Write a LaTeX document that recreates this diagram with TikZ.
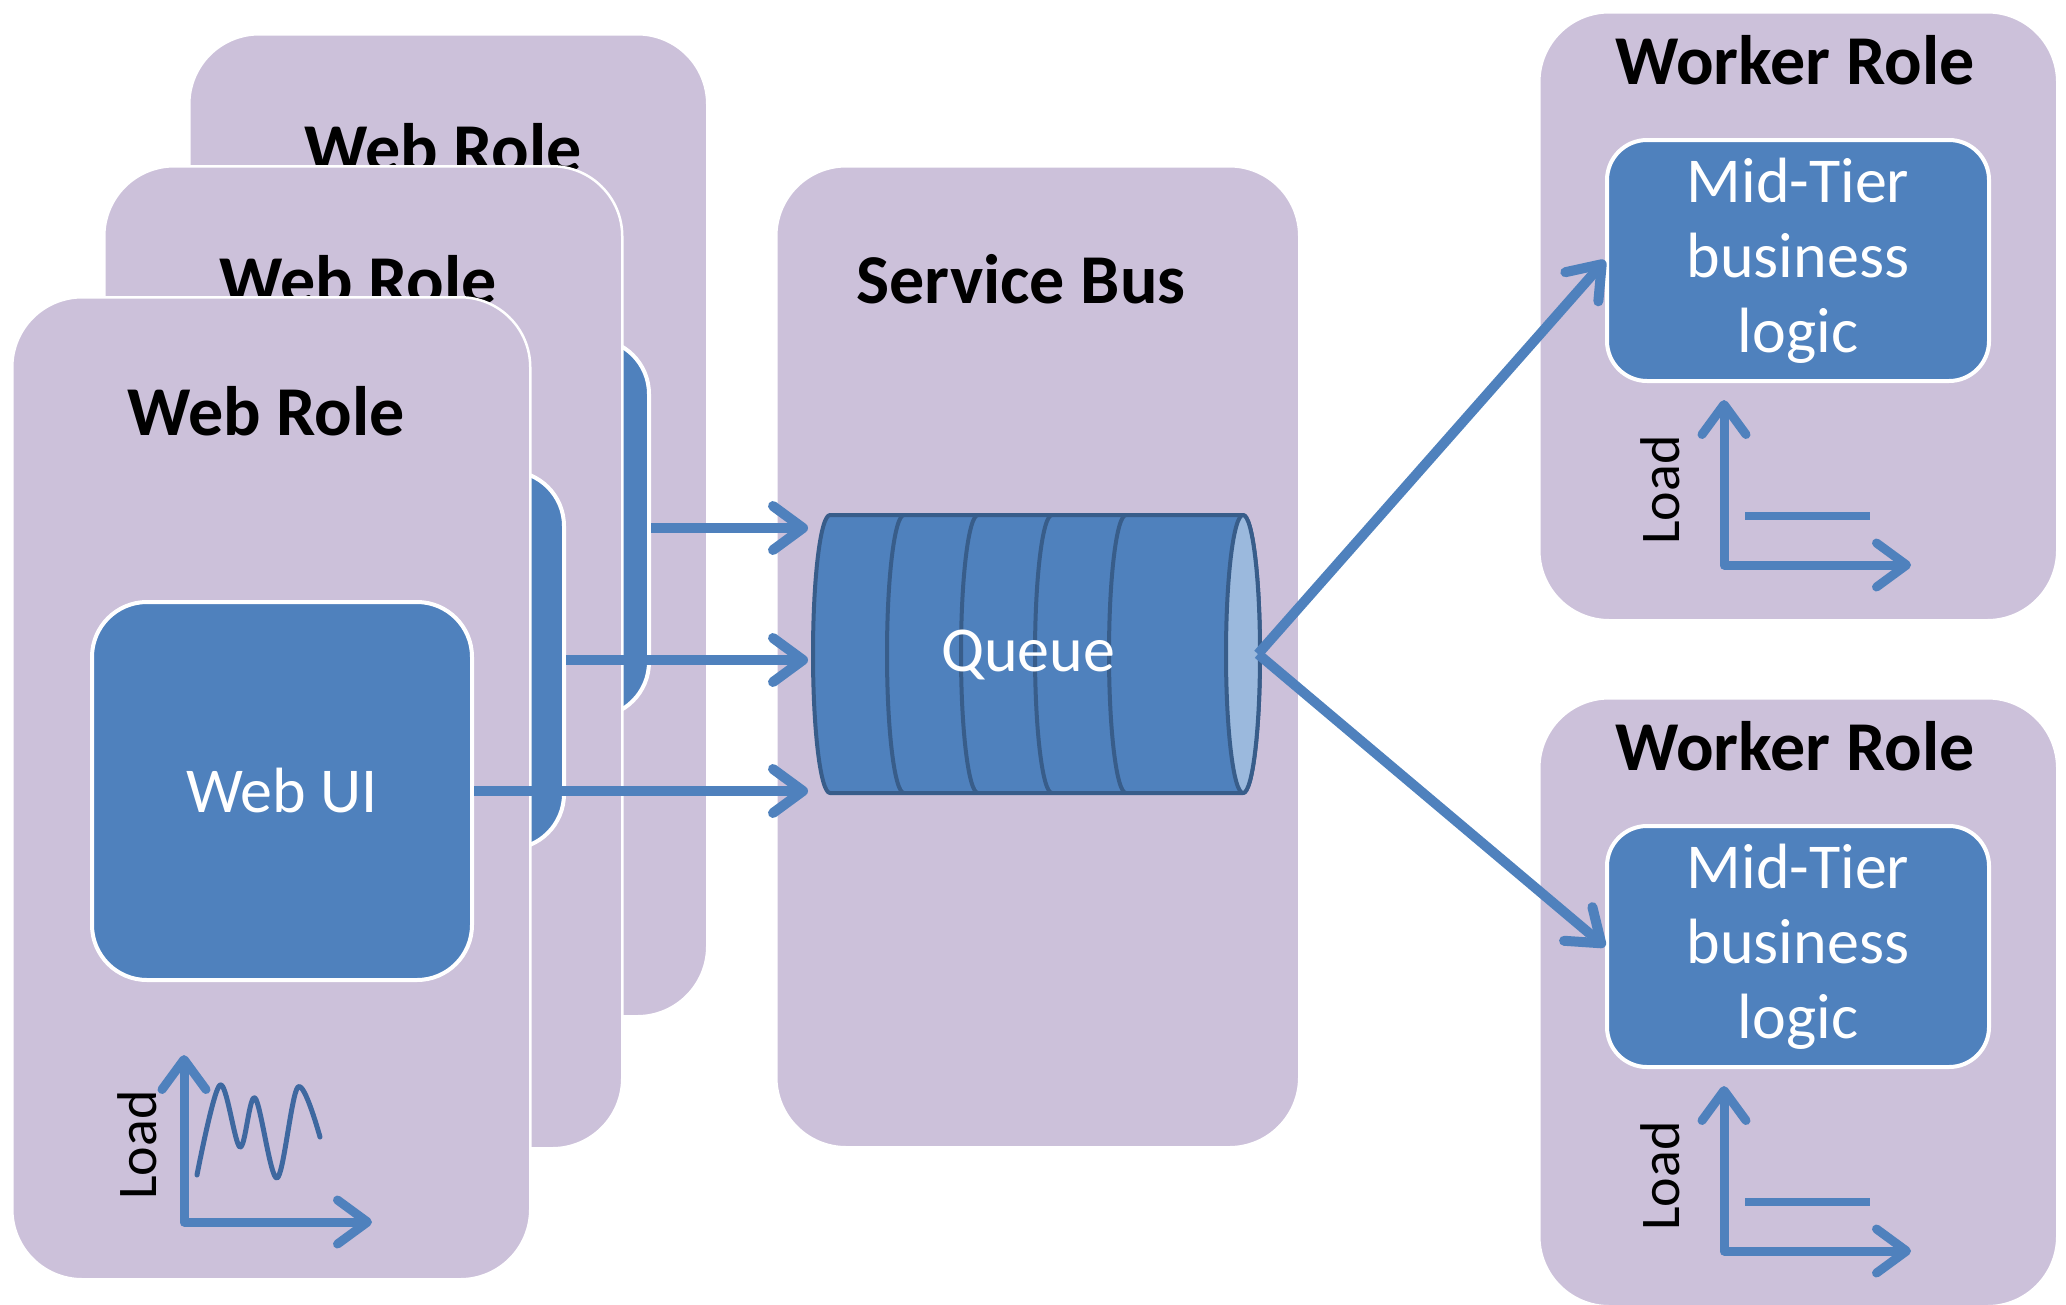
\documentclass[tikz,border=0pt]{standalone}
\usepackage{fontspec}
\setmainfont{Carlito}
\usetikzlibrary{arrows.meta}

\definecolor{rolefill}{RGB}{204,193,218}
\definecolor{boxblue}{RGB}{79,129,189}
\definecolor{darkblue}{RGB}{56,93,138}
\definecolor{wavecol}{RGB}{62,104,160}
\definecolor{queueend}{RGB}{155,185,221}

\begin{document}
\begin{tikzpicture}[x=1pt,y=-1pt,line join=round]
        % Styles
        \tikzstyle{role box}=[draw=white,line width=2.5pt,fill=rolefill,rounded corners=70pt,anchor=north west,inner sep=0pt,minimum width=518pt]
        \tikzstyle{role title}=[anchor=base,font=\bfseries\fontsize{70}{74}\selectfont]
        \tikzstyle{web box}=[draw=white,line width=4pt,fill=boxblue,rounded corners=55pt,anchor=north west,inner sep=0pt,minimum width=380pt,minimum height=378pt]
        \tikzstyle{logic box}=[draw=white,line width=4pt,fill=boxblue,rounded corners=40pt,anchor=north west,inner sep=0pt,minimum width=382pt,minimum height=241pt,align=center,text=white,font=\fontsize{64}{75}\selectfont]
        \tikzstyle{box text}=[text=white,font=\fontsize{64}{75}\selectfont]
        \tikzstyle{load label}=[rotate=90,font=\fontsize{56}{56}\selectfont]
        \tikzstyle{load axis}=[draw=boxblue,line width=9pt,{Straight Barb[round,length=30pt,width=44pt]}-{Straight Barb[round,length=30pt,width=44pt]}]
        \tikzstyle{load curve}=[draw=wavecol,line width=5pt,line cap=round]
        \tikzstyle{flat line}=[draw=boxblue,line width=8pt]
        \tikzstyle{queue line}=[draw=darkblue,line width=4pt]
        \tikzstyle{flow}=[draw=boxblue,line width=10pt,-{Straight Barb[round,length=30pt,width=44pt]}]
        \useasboundingbox (0,0) rectangle (2066,1304);
        %The graphic
        %web roles, back to front
        \foreach \n/\x/\y in {3/188/33,2/103/165,1/11/296}{
            \node[role box,minimum height=982pt] (wr\n) at (\x,\y) {};
            \node[role title] (title\n) at (\x+255,\y+139) {Web Role};
            \node[web box] (ui\n) at (\x+79,\y+304) {};
        }
        \node[box text] (uilabel) at (ui1) {Web UI};
        %load of the web role
        \draw[load axis] (184,1055) -- (184,1222) -- (372,1222);
        \draw[load curve] plot[smooth,tension=0.55] coordinates {(197,1175) (220,1085) (240,1147) (255,1098) (277,1178) (298,1087) (320,1137)};
        \node[load label] (load0) at (137,1145) {Load};
        %service bus
        \node[role box,minimum width=523pt,minimum height=981pt] (sb) at (775,165) {};
        \node[role title] (sbtitle) at (1021,303) {Service Bus};
        %queue
        \draw[queue line,fill=boxblue] (1243,515) -- (830,515) arc[start angle=270,end angle=90,x radius=17,y radius=139]
            -- (1243,793) arc[start angle=90,end angle=-90,x radius=17,y radius=139] -- cycle;
        \foreach \sx in {904,978,1052,1126}
            \draw[queue line] (\sx,515) arc[start angle=270,end angle=90,x radius=17,y radius=139];
        \draw[queue line,fill=queueend] (1243,654) ellipse[x radius=17,y radius=139];
        \node[box text] (q) at (1028,655) {Queue};
        \coordinate (qw) at (813,654);
        \coordinate (qe) at (1258,654);
        %worker roles
        \foreach \n/\y in {1/11,2/697}{
            \node[role box,minimum height=608pt] (wk\n) at (1538,\y) {};
            \node[role title] (wktitle\n) at (1795,\y+73) {Worker Role};
            \node[logic box] (mt\n) at (1605,\y+127) {Mid-Tier\\business\\logic};
            \draw[load axis] (1724,\y+389) -- (1724,\y+554) -- (1911,\y+554);
            \draw[flat line] (1745,\y+505) -- (1870,\y+505);
            \node[load label] (load\n) at (1660,\y+479) {Load};
        }
        %arrows
        \foreach \n in {1,2,3}
            \draw[flow,shorten >=5pt] (ui\n.east) -- (ui\n.east -| qw);
        \draw[flow] (qe) -- (mt1.west);
        \draw[flow] (qe) -- (mt2.west);
\end{tikzpicture}
\end{document}
